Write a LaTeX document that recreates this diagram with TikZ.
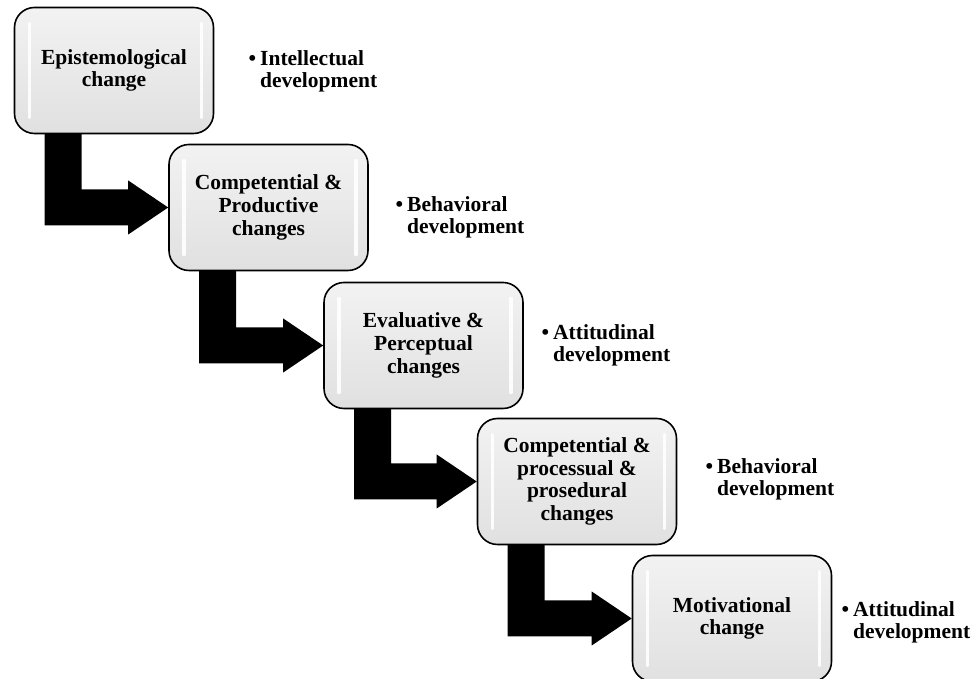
\documentclass[tikz,border=0pt]{standalone}
\usepackage{fontspec}
\setmainfont{Liberation Serif}
\usetikzlibrary{calc}
\tikzset{
  stagebox/.style={draw=black, line width=1.6pt, rounded corners=20pt,
    minimum width=199pt, minimum height=126pt, inner sep=2pt,
    top color=gray!10, bottom color=gray!24, align=center,
    font=\bfseries\fontsize{21.5}{22.8}\selectfont,
    path picture={
      \draw[white, line width=3.5pt, line cap=round, opacity=0.9]
        ([xshift=15pt,yshift=16pt]path picture bounding box.south west) --
        ([xshift=15pt,yshift=-16pt]path picture bounding box.north west);
      \draw[white, line width=3.5pt, line cap=round, opacity=0.9]
        ([xshift=-12pt,yshift=16pt]path picture bounding box.south east) --
        ([xshift=-12pt,yshift=-16pt]path picture bounding box.north east);
    }},
  devlabel/.style={anchor=west, align=left, inner sep=0pt,
    font=\bfseries\fontsize{21.5}{22}\selectfont},
  bentarrow/.style={fill=black, draw=none}
}
\newcommand{\stepflow}[2]{%
  \path[bentarrow] let \p1=(#1.south west), \p2=(#2.west) in
    (\x1+31pt,\y1+1pt) -- (\x1+68pt,\y1+1pt) -- (\x1+68pt,\y2+18pt) --
    (\x2-40pt,\y2+18pt) -- (\x2-40pt,\y2+27pt) -- (\x2,\y2) --
    (\x2-40pt,\y2-27pt) -- (\x2-40pt,\y2-18pt) -- (\x1+31pt,\y2-18pt) -- cycle;}
\begin{document}
\begin{tikzpicture}[x=1pt,y=1pt]
\useasboundingbox (0,0) rectangle (974,679);
\clip (0,0) rectangle (974,679);
\fill[white] (0,0) rectangle (974,679);

\node[stagebox] (b1) at (114,608.5) {Epistemological\\change};
\node[stagebox] (b2) at (268.5,471.5) {Competential \&\\Productive\\changes};
\node[stagebox] (b3) at (423.5,333.5) {Evaluative \&\\Perceptual\\changes};
\node[stagebox] (b4) at (577,197.5) {Competential \&\\processual \&\\prosedural\\changes};
\node[stagebox] (b5) at (732,60.5) {Motivational\\change};

\stepflow{b1}{b2}
\stepflow{b2}{b3}
\stepflow{b3}{b4}
\stepflow{b4}{b5}

\node[devlabel] (l1) at (260,608) {\llap{\textbullet\hspace{4pt}}Intellectual\\development};
\node[devlabel] (l2) at (407,462) {\llap{\textbullet\hspace{4pt}}Behavioral\\development};
\node[devlabel] (l3) at (553,334) {\llap{\textbullet\hspace{4pt}}Attitudinal\\development};
\node[devlabel] (l4) at (717,200) {\llap{\textbullet\hspace{4pt}}Behavioral\\development};
\node[devlabel] (l5) at (853,57) {\llap{\textbullet\hspace{4pt}}Attitudinal\\development};
\end{tikzpicture}
\end{document}
